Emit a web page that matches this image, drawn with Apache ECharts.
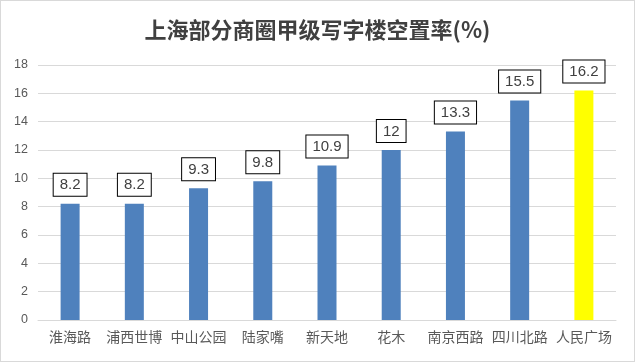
<!DOCTYPE html>
<html><head><meta charset="utf-8">
<script src="https://cdn.jsdelivr.net/npm/echarts@6/dist/echarts.min.js"></script>
<style>html,body{margin:0;padding:0;background:#fff}#c{width:635px;height:362px;box-sizing:border-box;border:1px solid #d9d9d9;}</style>
</head><body><div id="c"></div>
<script>
const titleText = '上海部分商圈甲级写字楼空置率(%)';
const categories = ['淮海路','浦西世博','中山公园','陆家嘴','新天地','花木','南京西路','四川北路','人民广场'];
const values = [8.2, 8.2, 9.3, 9.8, 10.9, 12, 13.3, 15.5, 16.2];
const highlight = '人民广场';
const chart = echarts.init(document.getElementById('c'));
chart.setOption({
  animation:false,
  title:{text:titleText,left:'center',top:13,textStyle:{fontFamily:'Noto Sans CJK SC',fontWeight:'bold',fontSize:22,color:'#404040'}},
  grid:{left:37,right:18,top:64,bottom:41},
  xAxis:{type:'category',data:categories,axisTick:{show:false},axisLine:{lineStyle:{color:'#d9d9d9'}},
    axisLabel:{color:'#595959',fontSize:14,fontFamily:'Noto Sans CJK SC',margin:10,interval:0}},
  yAxis:{type:'value',min:0,max:18,interval:2,axisLine:{show:false},axisTick:{show:false},
    splitLine:{lineStyle:{color:'#d9d9d9'}},axisLabel:{color:'#595959',fontSize:12.5,fontFamily:'Liberation Sans',margin:10}},
  series:[{type:'bar',barWidth:19,data:values.map((v,i)=>({value:v,itemStyle:{color:categories[i]===highlight?'#ffff00':'#4f81bd'}})),
    label:{show:true,position:'top',distance:8,color:'#404040',fontSize:15,fontFamily:'Liberation Sans',backgroundColor:'#fff',borderColor:'#000',borderWidth:1,padding:[4,6,3,6]}}]
});
</script></body></html>
